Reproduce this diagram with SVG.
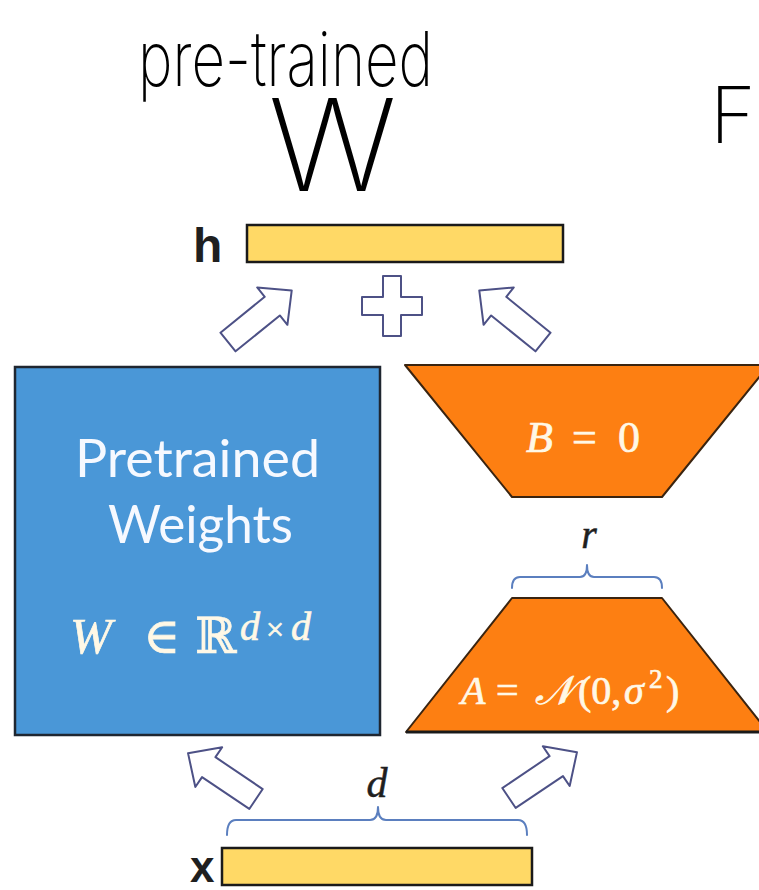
<svg xmlns="http://www.w3.org/2000/svg" width="759" height="890" viewBox="0 0 759 890">
  <style>
    .vec { fill: #ffd966; stroke: #1a1a1a; stroke-width: 2.5; }
    .orange { fill: #fd7f12; stroke: #3a2410; stroke-width: 2; stroke-linejoin: round; }
    .blk { fill: #ffffff; stroke: #4d5186; stroke-width: 2; stroke-linejoin: round; }
    .brace { fill: none; stroke: #5b7fbf; stroke-width: 2; stroke-linecap: round; stroke-linejoin: round; }
    .lbl { font-family: "Liberation Sans", Arial, sans-serif; font-weight: bold; fill: #1f1f1f; }
    .cal { font-family: "Lato", "Liberation Sans", sans-serif; fill: #f6f9ff; }
    .math { font-family: "Liberation Serif", "DejaVu Serif", serif; }
    .mw { fill: #fff8e6; stroke: #fff8e6; stroke-width: 0.7; }
    .mk { fill: #1f1f1f; stroke: #1f1f1f; stroke-width: 0.5; }
    .hand { font-family: "Inter", "Noto Sans", sans-serif; font-weight: 200; fill: #000; }
  </style>
  <defs>
    <path id="blockArrow" d="M0,-12 L57,-12 L57,-24 L82,0 L57,24 L57,12 L0,12 Z"/>
  </defs>
  <rect width="759" height="890" fill="#ffffff"/>

  <g id="annotations">
    <text class="hand" x="138" y="86" font-size="76" textLength="295" lengthAdjust="spacingAndGlyphs">pre-trained</text>
    <text class="hand" x="268" y="191" font-size="128" textLength="129" lengthAdjust="spacingAndGlyphs">W</text>
    <text class="hand" x="710" y="143" font-size="78">F</text>
  </g>

  <g id="node-h">
    <rect class="vec" x="247" y="225" width="316" height="37"/>
    <text class="lbl" x="193" y="262" font-size="48">h</text>
  </g>

  <g id="node-x">
    <rect class="vec" x="222" y="848" width="310" height="37"/>
    <text class="lbl" x="190" y="882" font-size="44">x</text>
  </g>

  <g id="node-W">
    <rect x="15" y="367" width="365" height="368" fill="#4a97d7" stroke="#1f2630" stroke-width="2.5"/>
    <text class="cal" x="75" y="477" font-size="52" textLength="245" lengthAdjust="spacingAndGlyphs">Pretrained</text>
    <text class="cal" x="108" y="543" font-size="52" textLength="185" lengthAdjust="spacingAndGlyphs">Weights</text>
    <text class="math mw" y="653" font-size="50"><tspan x="70" font-style="italic">W</tspan><tspan x="143">∈</tspan><tspan x="195">ℝ</tspan><tspan x="240" y="640" font-size="40" font-style="italic">d</tspan><tspan x="266" y="640" font-size="32">×</tspan><tspan x="291" y="640" font-size="40" font-style="italic">d</tspan></text>
  </g>

  <g id="node-B">
    <polygon class="orange" points="405,365 769,365 662,497 512,497"/>
    <text class="math mw" y="452" font-size="44"><tspan x="526" font-style="italic">B</tspan><tspan x="572">=</tspan><tspan x="618">0</tspan></text>
  </g>

  <g id="node-A">
    <polygon class="orange" points="512,598 662,598 768,732 406,732"/>
    <line x1="406" y1="732" x2="759" y2="732" stroke="#1a1a1a" stroke-width="3"/>
    <text class="math mw" y="704" font-size="40"><tspan x="461" font-style="italic">A</tspan><tspan x="496">=</tspan><tspan x="535" font-style="italic">𝒩</tspan><tspan x="578">(0,</tspan><tspan x="624" font-style="italic">σ</tspan><tspan x="649" y="688" font-size="27">2</tspan><tspan x="666" y="704">)</tspan></text>
  </g>

  <g id="brace-r">
    <path class="brace" d="M512,588 Q512,577 520,577 L580,577 Q587,577 587,565 Q587,577 594,577 L654,577 Q662,577 662,588"/>
    <text class="math mk" x="589" y="548" font-size="40" font-style="italic" text-anchor="middle">r</text>
  </g>

  <g id="brace-d">
    <path class="brace" d="M227,835 Q227,820 236,820 L370,820 Q378,820 378,807 Q378,820 386,820 L518,820 Q527,820 527,835"/>
    <text class="math mk" x="377" y="797" font-size="42" font-style="italic" text-anchor="middle">d</text>
  </g>

  <g id="connectors">
    <use href="#blockArrow" class="blk" transform="translate(228,342) rotate(-39)"/>
    <use href="#blockArrow" class="blk" transform="translate(543,342) rotate(-141)"/>
    <use href="#blockArrow" class="blk" transform="translate(256,799) rotate(-146)"/>
    <use href="#blockArrow" class="blk" transform="translate(509,798) rotate(-34)"/>
    <path class="blk" d="M383,276 h18 v21 h21 v18 h-21 v21 h-18 v-21 h-21 v-18 h21 z"/>
  </g>
</svg>
